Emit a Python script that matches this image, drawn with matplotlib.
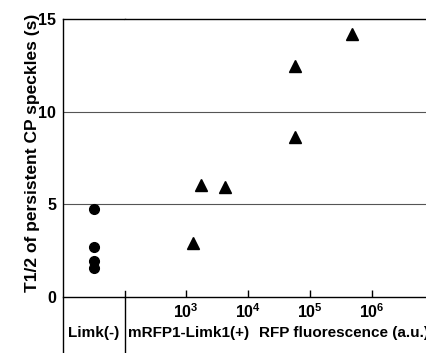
import matplotlib.pyplot as plt
from matplotlib.ticker import NullLocator

plt.rcParams['font.family'] = ['Liberation Sans', 'DejaVu Sans']
plt.rcParams['font.weight'] = 'bold'
plt.rcParams['mathtext.fontset'] = 'custom'
plt.rcParams['mathtext.rm'] = 'Liberation Sans:bold'
plt.rcParams['mathtext.it'] = 'Liberation Sans:bold'
plt.rcParams['mathtext.bf'] = 'Liberation Sans:bold'

# Limk(-) control cells
limk_neg_t = [4.75, 2.7, 1.95, 1.55]

# mRFP1-Limk1(+) cells: RFP fluorescence vs T1/2
rfp_fluor = [1300, 1740, 4300, 56600, 56600, 470000]
rfp_t = [2.9, 6.05, 5.95, 8.65, 12.45, 14.2]

decades = [1e3, 1e4, 1e5, 1e6]
decade_labels = [r'$10^{3}$', r'$10^{4}$', r'$10^{5}$', r'$10^{6}$']
yticks = [0, 5, 10, 15]

W, H = 426, 353
fig = plt.figure(figsize=(W / 100, H / 100), dpi=100)
y_lo, y_hi = -3.02, 15

ax1 = fig.add_axes([63 / W, 0, 62 / W, 1 - 19 / H])
ax2 = fig.add_axes([125 / W, 0, 301 / W, 1 - 19 / H], sharey=ax1)

for ax in (ax1, ax2):
    ax.set_ylim(y_lo, y_hi)
    ax.spines['right'].set_visible(False)
    ax.spines['bottom'].set_position(('data', 0))
    ax.spines['top'].set_linewidth(1.0)
    ax.spines['bottom'].set_linewidth(1.0)
    for v in (5, 10):
        ax.axhline(v, color='#555555', lw=0.8, zorder=0)

# left panel: Limk(-)
ax1.plot([0] * len(limk_neg_t), limk_neg_t, 'o', color='black', ms=7)
ax1.set_xlim(-0.5, 0.5)
ax1.set_xticks([])
ax1.set_yticks(yticks)
ax1.tick_params(axis='y', length=0, pad=5, labelsize=11.5)
ax1.spines['left'].set_linewidth(1.0)
ax1.set_ylabel('T1/2 of persistent CP speckles (s)', fontsize=12.5, fontweight='bold')
ax1.yaxis.set_label_coords(-0.37, 0.6)
ax1.text(0.5, -1.95, 'Limk(-)', transform=ax1.get_yaxis_transform(),
         ha='center', va='center', fontsize=11)

# right panel: log fluorescence
ax2.set_xscale('log')
ax2.plot(rfp_fluor, rfp_t, '^', color='black', ms=8.5)
ax2.set_xlim(103.8, 7.43e6)
ax2.set_xticks(decades)
ax2.set_xticklabels(decade_labels)
ax2.xaxis.set_minor_locator(NullLocator())
ax2.tick_params(axis='x', direction='in', length=5, width=1.0, pad=4, labelsize=11.5)
ax2.tick_params(axis='y', left=False, labelleft=False)
ax2.spines['left'].set_bounds(y_lo, 0.35)
ax2.spines['left'].set_linewidth(1.0)
ax2.text(0.01, -1.95, 'mRFP1-Limk1(+)', transform=ax2.get_yaxis_transform(),
         ha='left', va='center', fontsize=11)
ax2.text(0.445, -1.95, 'RFP fluorescence (a.u.)', transform=ax2.get_yaxis_transform(),
         ha='left', va='center', fontsize=11)

fig.savefig('out.png', dpi=100)
